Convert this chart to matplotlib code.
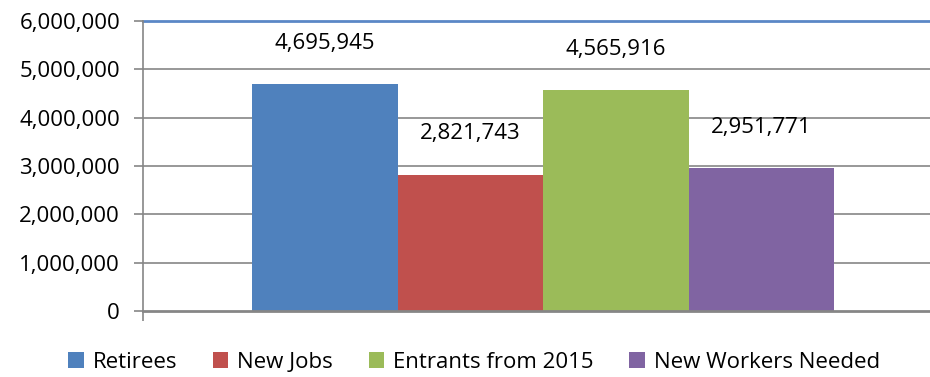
import matplotlib
matplotlib.use("Agg")
import matplotlib.pyplot as plt
from matplotlib.patches import Patch
from matplotlib.ticker import FuncFormatter

series = ["Retirees", "New Jobs", "Entrants from 2015", "New Workers Needed"]
values = [4695945, 2821743, 4565916, 2951771]
colors = ["#4F81BD", "#C0504D", "#9BBB59", "#8064A2"]
yticks = [0, 1000000, 2000000, 3000000, 4000000, 5000000, 6000000]

plt.rcParams['font.family'] = ['Open Sans', 'DejaVu Sans']
FS = 16

fig = plt.figure(figsize=(9.3, 3.77), dpi=100)
ax = fig.add_axes([143/930, 1-311/377, 1-143/930, (311-21)/377])

positions = [-1.5, -0.5, 0.5, 1.5]
bars = ax.bar(positions, values, width=1.0, color=colors, zorder=3)
for b, v in zip(bars, values):
    ax.annotate(f"{v:,}", (b.get_x()+b.get_width()/2, v), xytext=(0, 29.5),
                textcoords='offset points', ha='center', va='center', fontsize=FS, color='#000000')

ax.set_xlim(-2.75, 2.66)
ax.set_ylim(0, 6000000)
ax.set_yticks(yticks)
ax.yaxis.set_major_formatter(FuncFormatter(lambda v, p: f"{int(v):,}"))
ax.tick_params(axis='y', labelsize=FS, length=6.5, width=1.2, color='#868686', pad=10, labelcolor='#000000')
ax.set_xticks([-2.75])
ax.set_xticklabels([])
ax.tick_params(axis='x', length=7, width=1.2, color='#868686')
for yv in yticks[1:-1]:
    ax.axhline(yv, color='#868686', lw=1.2, zorder=1)
ax.axhline(6000000, color='#5B87C6', lw=2.0, zorder=1, clip_on=False)
for s in ['top', 'right']:
    ax.spines[s].set_visible(False)
ax.spines['left'].set_color('#868686')
ax.spines['left'].set_linewidth(1.2)
ax.spines['bottom'].set_color('#868686')
ax.spines['bottom'].set_linewidth(2.0)
ax.spines['bottom'].set_zorder(4)

handles = [Patch(facecolor=c, edgecolor='none') for c in colors]
fig.legend(handles, series, loc='center', bbox_to_anchor=(474/930, 1-362/377), ncol=4,
           frameon=False, fontsize=FS, handlelength=0.7, handleheight=0.7,
           handletextpad=0.4, columnspacing=1.6)

fig.savefig("out.png", dpi=100)
